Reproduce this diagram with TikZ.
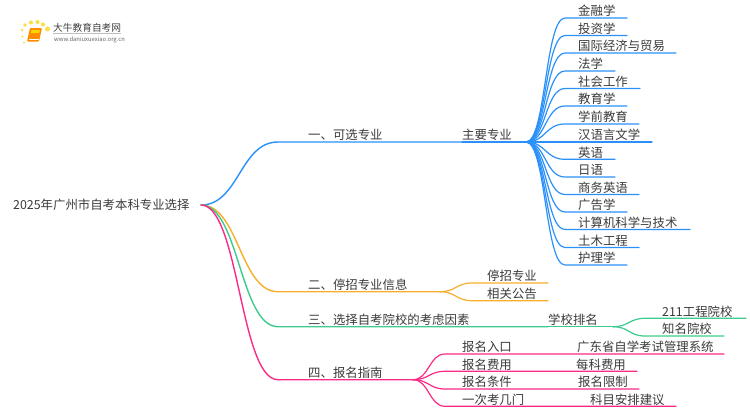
\documentclass[tikz,border=0pt]{standalone}
\usepackage{fontspec}
\setmainfont{Noto Sans CJK SC}
\definecolor{lineblue}{HTML}{2A90FA}
\definecolor{lineorange}{HTML}{F7AE2B}
\definecolor{linegreen}{HTML}{3CCB8C}
\definecolor{linepink}{HTML}{FB2A84}
\definecolor{labelgray}{HTML}{3A3A3A}
\tikzset{
        label text/.style={anchor=base west, inner sep=0pt, text=labelgray, font=\fontsize{12.4}{14}\selectfont},
        main line/.style={line width=1.4pt, line cap=round},
        sub line/.style={line width=1.2pt, line cap=round},
}
\newcommand{\forkto}[2]{.. controls +(#1,0) and +(-#1,0) .. (#2)}

\begin{document}
\begin{tikzpicture}[x=1pt, y=-1pt]
        \useasboundingbox (0,0) rectangle (750,410);
        % logo
        \foreach \x/\y/\r in {22/30/1.4,25/25/1.8,31/22.5/2.1,37.5/22/2.1,43/24.5/2.1,47.5/29/2.4,22.5/36.5/1.2,24/42.5/1}
                \fill[yellow!70!orange, opacity=0.75] (\x,\y) circle (\r);
        \fill[orange!90!yellow, rounded corners=1pt] (30,28) -- (42,28) -- (39,41.5) -- (27,41.5) -- cycle;
        \fill[yellow!75!orange] (31.5,30) -- (40,30) -- (39.3,33) -- (30.8,33) -- cycle;
        \draw[white, line width=0.5pt] (28.5,39.5) -- (39,39.5);
        \node[anchor=base west, inner sep=0pt, text=black!75, font=\fontsize{9.7}{11}\selectfont] (brand) at (53,31) {大牛教育自考网};
        \draw[black!25, line width=0.4pt] (53,33.5) -- (121,33.5);
        \node[anchor=base west, inner sep=0pt, text=black!60, font=\fontsize{5.85}{7}\selectfont] (site) at (54,41) {www.daniuxuexiao.org.cn};
        % root and first level
        \coordinate (root) at (201,205);
        \node[label text] (title) at (13,209.5) {2025年广州市自考本科专业选择};
        \foreach \n/\c/\y/\xa/\xb/\txt in {
                one/lineblue/142/278/462/一、可选专业,
                two/lineorange/291.7/278/440/二、停招专业信息,
                three/linegreen/326.7/278/548/三、选择自考院校的考虑因素,
                four/linepink/379.7/278/413/四、报名指南}{
                \coordinate (\n s) at (\xa,\y);
                \coordinate (\n e) at (\xb,\y);
                \draw[main line, \c] (root) \forkto{38}{\n s} -- (\n e);
                \node[label text] (\n) at (308,\y-2.2) {\txt};
        }
        % majors
        \coordinate (majorhub) at (526,142);
        \node[label text] (major) at (462,139.8) {主要专业};
        \draw[main line, lineblue] (onee) -- (majorhub);
        \foreach \i/\y/\xend/\txt in {
                1/18/627/金融学, 2/35.5/627/投资学, 3/53/676/国际经济与贸易,
                4/71/615/法学, 5/88.5/640/社会工作, 6/106/627/教育学,
                7/124/639/学前教育, 8/142/652/汉语言文学, 9/159.3/615/英语,
                10/177/615/日语, 11/194.5/639/商务英语, 12/212/627/广告学,
                13/229.5/690/计算机科学与技术, 14/247.5/639/土木工程, 15/265/627/护理学}{
                \coordinate (m\i s) at (565,\y);
                \coordinate (m\i e) at (\xend,\y);
                \draw[sub line, lineblue] (majorhub) \forkto{20}{m\i s} -- (m\i e);
                \node[label text] (m\i) at (578,\y-2.2) {\txt};
        }
        % stopped majors
        \foreach \i/\y/\xend/\txt in {1/283/548/停招专业, 2/300.7/548/相关公告}{
                \coordinate (st\i s) at (472,\y);
                \coordinate (st\i e) at (\xend,\y);
                \draw[sub line, lineorange] (twoe) \forkto{16}{st\i s} -- (st\i e);
                \node[label text] (st\i) at (487,\y-2.2) {\txt};
        }
        % school ranking
        \coordinate (rankhub) at (613,326.7);
        \node[label text] (rank) at (548,324.5) {学校排名};
        \draw[main line, linegreen] (threee) -- (rankhub);
        \foreach \i/\y/\xend/\txt in {1/318.3/746/211工程院校, 2/336/724/知名院校}{
                \coordinate (sc\i s) at (645,\y);
                \coordinate (sc\i e) at (\xend,\y);
                \draw[sub line, linegreen] (rankhub) \forkto{16}{sc\i s} -- (sc\i e);
                \node[label text] (sc\i) at (662,\y-2.2) {\txt};
        }
        % guide
        \foreach \i/\y/\xend/\xt/\txt/\more in {
                1/354/724/577/报名入口/广东省自学考试管理系统,
                2/371.3/637/576/报名费用/每科费用,
                3/389/639/578/报名条件/报名限制,
                4/406.3/676/590/一次考几门/科目安排建议}{
                \coordinate (g\i s) at (445,\y);
                \coordinate (g\i e) at (\xend,\y);
                \draw[sub line, linepink] (foure) \forkto{16}{g\i s} -- (g\i e);
                \node[label text] (g\i) at (462,\y-2.2) {\txt};
                \node[label text] (gm\i) at (\xt,\y-2.2) {\more};
        }
\end{tikzpicture}
\end{document}
